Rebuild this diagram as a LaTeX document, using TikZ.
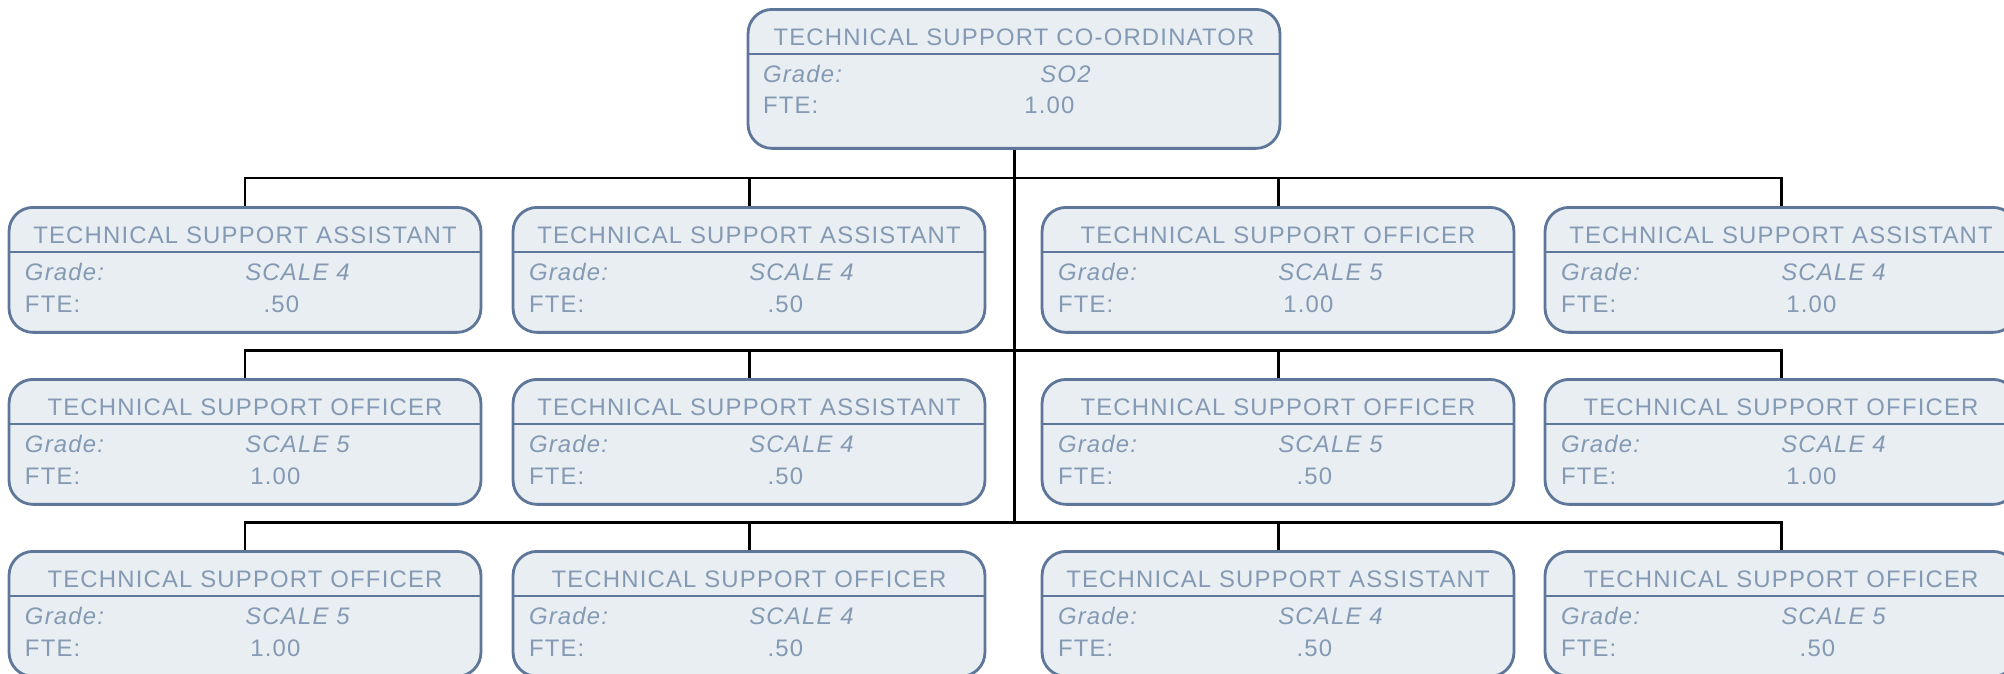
\documentclass[tikz,border=0pt]{standalone}
\usepackage{fontspec}
\usetikzlibrary{calc, positioning}

\newfontfamily\chartfamily[LetterSpace=5]{Liberation Sans}
\newcommand{\chartfont}{\chartfamily\fontsize{13.6pt}{16pt}\selectfont}

\definecolor{boxline}{HTML}{5E7699}
\definecolor{boxfill}{HTML}{E9EEF2}
\definecolor{boxtext}{HTML}{8499B3}

\begin{document}
\begin{tikzpicture}[
    x=0.02cm, y=-0.02cm,
    box_style/.style={draw=boxline, fill=boxfill, line width=1.6pt, rounded corners=0.48cm, minimum width=9.44cm, minimum height=2.5cm, inner sep=0pt},
    top_box_style/.style={box_style, minimum width=10.64cm, minimum height=2.78cm},
    head_style/.style={font=\chartfont, text=boxtext, inner sep=0pt, anchor=base},
    field_style/.style={font=\chartfont, text=boxtext, inner sep=0pt, anchor=base west},
    grade_style/.style={field_style, font=\chartfont\itshape},
    divider_style/.style={draw=boxline, line width=1.6pt},
    link_style/.style={draw=black, line width=1.7pt}
]
\useasboundingbox (0,0) rectangle (2004,673);

% Top - Co-ordinator
\node[top_box_style, anchor=north] (coord) at (1014,8) {};
\draw[divider_style] ($(coord.north west)+(0,46)$) -- ($(coord.north east)+(0,46)$);
\node[head_style] (coord-head) at ($(coord.north)+(0,37)$) {TECHNICAL SUPPORT CO-ORDINATOR};
\node[grade_style] (coord-gl) at ($(coord.north west)+(16,74)$) {Grade:};
\node[grade_style] (coord-gv) at ($(coord.north)+(26,74)$) {SO2};
\node[field_style] (coord-fl) at ($(coord.north west)+(16,105)$) {FTE:};
\node[field_style] (coord-fv) at ($(coord.north)+(10,105)$) {1.00};

% Rows of staff boxes (name / centre x / top y / title / grade / fte)
\foreach \nm/\cx/\ty/\ttl/\grd/\fte in {
    b11/245/206/TECHNICAL SUPPORT ASSISTANT/SCALE 4/\phantom{1}.50,
    b12/749/206/TECHNICAL SUPPORT ASSISTANT/SCALE 4/\phantom{1}.50,
    b13/1278/206/TECHNICAL SUPPORT OFFICER/SCALE 5/1.00,
    b14/1781/206/TECHNICAL SUPPORT ASSISTANT/SCALE 4/1.00,
    b21/245/378/TECHNICAL SUPPORT OFFICER/SCALE 5/1.00,
    b22/749/378/TECHNICAL SUPPORT ASSISTANT/SCALE 4/\phantom{1}.50,
    b23/1278/378/TECHNICAL SUPPORT OFFICER/SCALE 5/\phantom{1}.50,
    b24/1781/378/TECHNICAL SUPPORT OFFICER/SCALE 4/1.00,
    b31/245/550/TECHNICAL SUPPORT OFFICER/SCALE 5/1.00,
    b32/749/550/TECHNICAL SUPPORT OFFICER/SCALE 4/\phantom{1}.50,
    b33/1278/550/TECHNICAL SUPPORT ASSISTANT/SCALE 4/\phantom{1}.50,
    b34/1781/550/TECHNICAL SUPPORT OFFICER/SCALE 5/\phantom{1}.50}
{
    \node[box_style, anchor=north] (\nm) at (\cx,\ty) {};
    \draw[divider_style] ($(\nm.north west)+(0,46)$) -- ($(\nm.north east)+(0,46)$);
    \node[head_style] (\nm-head) at ($(\nm.north)+(0,37)$) {\ttl};
    \node[grade_style] (\nm-gl) at ($(\nm.north west)+(17,74)$) {Grade:};
    \node[grade_style] (\nm-gv) at ($(\nm.north)+(0,74)$) {\grd};
    \node[field_style] (\nm-fl) at ($(\nm.north west)+(17,106)$) {FTE:};
    \node[field_style] (\nm-fv) at ($(\nm.north)+(5,106)$) {\fte};
}

% Connectors - trunk and one bus per row
\coordinate (bus3) at ($(b31.north)+(0,-28)$);
\draw[link_style] (coord.south) -- (coord.south |- bus3);
\foreach \r in {1,2,3} {
    \draw[link_style] (b\r1.north) -- ++(0,-28) -| (b\r4.north);
    \draw[link_style] (b\r2.north) -- ++(0,-28);
    \draw[link_style] (b\r3.north) -- ++(0,-28);
}

\end{tikzpicture}
\end{document}
